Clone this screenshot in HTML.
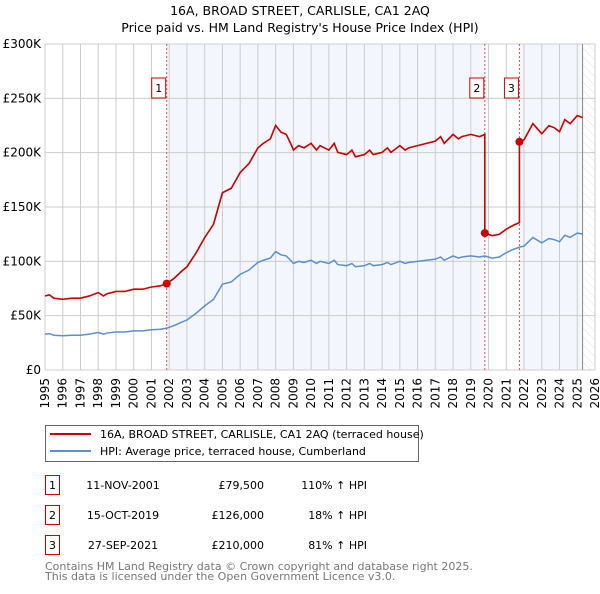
<!DOCTYPE html>
<html><head><meta charset="utf-8">
<style>
body{margin:0;background:#fff;font-family:"DejaVu Sans","Liberation Sans",sans-serif;}
svg text{font-family:"DejaVu Sans","Liberation Sans",sans-serif;}
</style></head>
<body>
<svg id="chart" width="600" height="590" viewBox="0 0 600 590" xmlns="http://www.w3.org/2000/svg">
<defs>
<pattern id="hatch" width="6" height="6" patternUnits="userSpaceOnUse" patternTransform="rotate(-45)">
<line x1="0" y1="0" x2="0" y2="6" stroke="#ddd" stroke-width="0.8"/>
</pattern>
</defs>
<text x="300" y="15" text-anchor="middle" font-size="12.5" fill="#000">16A, BROAD STREET, CARLISLE, CA1 2AQ</text>
<text x="300" y="32" text-anchor="middle" font-size="12.5" fill="#000">Price paid vs. HM Land Registry's House Price Index (HPI)</text>
<g id="plot"></g>
<g id="legend">
<rect x="45.5" y="425.5" width="373" height="36" fill="#fff" stroke="#666"/>
<line x1="50" y1="434" x2="91" y2="434" stroke="#cc0000" stroke-width="2"/>
<text x="100" y="438" font-size="11">16A, BROAD STREET, CARLISLE, CA1 2AQ (terraced house)</text>
<line x1="50" y1="451" x2="91" y2="451" stroke="#5b8fd0" stroke-width="2"/>
<text x="100" y="455" font-size="11">HPI: Average price, terraced house, Cumberland</text>
</g>
<g id="table" font-size="11"></g>
<text x="45" y="570" font-size="11" fill="#777">Contains HM Land Registry data © Crown copyright and database right 2025.</text>
<text x="45" y="580" font-size="11" fill="#777">This data is licensed under the Open Government Licence v3.0.</text>
</svg>
<script>
const years=[1995,1995.25,1995.5,1996,1996.5,1997,1997.5,1998,1998.3,1998.5,1999,1999.5,2000,2000.5,2001,2001.5,2001.86,2002.3,2002.7,2003,2003.5,2004,2004.5,2005,2005.5,2006,2006.5,2007,2007.3,2007.7,2008,2008.3,2008.6,2008.9,2009,2009.3,2009.6,2010,2010.3,2010.5,2011,2011.3,2011.5,2012,2012.3,2012.5,2013,2013.3,2013.5,2014,2014.3,2014.5,2015,2015.3,2015.5,2016,2016.5,2017,2017.3,2017.5,2018,2018.3,2018.5,2019,2019.5,2019.79,2020.2,2020.6,2021,2021.4,2021.74,2022,2022.5,2022.8,2023,2023.4,2023.7,2024,2024.3,2024.6,2025,2025.3];
const hpi=[33,33.5,32,31.5,32,32,33,34.5,33,34,35,35,36,36,37,37.5,38.5,41,44,46,52,59,65,79,81,88,92,99,101,103,109,106,105,100,98,100,99,101,98,100,98,101,97,96,98,95,96,98,96,97,99,97,100,98,99,100,101,102,104,101,105,103,104,105,104,105,103,104,108,111,113,114,122,119,117,121,120,118,124,122,126,125];
const saleYears=[2001.86,2019.79,2021.74];
const salePrices=[79.5,126,210];
const saleDates=["11-NOV-2001","15-OCT-2019","27-SEP-2021"];
const salePriceLabels=["£79,500","£126,000","£210,000"];
const salePctLabels=["110% ↑ HPI","18% ↑ HPI","81% ↑ HPI"];
const yTicks=[0,50,100,150,200,250,300];
const yTickLabels=["£0","£50K","£100K","£150K","£200K","£250K","£300K"];
const xTicks=[1995,1996,1997,1998,1999,2000,2001,2002,2003,2004,2005,2006,2007,2008,2009,2010,2011,2012,2013,2014,2015,2016,2017,2018,2019,2020,2021,2022,2023,2024,2025,2026];

const X0=45,X1=595,Y0=370,Y1=44,dataEnd=2025.3;
const xs=y=>X0+(y-1995)/(2026-1995)*(X1-X0);
const ys=v=>Y0-v/300*(Y0-Y1);
const NS="http://www.w3.org/2000/svg";
const plot=document.getElementById('plot');
function mk(tag,attrs,parent){const e=document.createElementNS(NS,tag);for(const k in attrs)e.setAttribute(k,attrs[k]);(parent||plot).appendChild(e);return e;}

let sh=mk('rect',{x:xs(saleYears[0]),y:Y1,width:xs(saleYears[1])-xs(saleYears[0]),height:Y0-Y1,fill:'#eef2fc',opacity:0.7});


let sh2=mk('rect',{x:xs(saleYears[2]),y:Y1,width:xs(dataEnd)-xs(saleYears[2]),height:Y0-Y1,fill:'#eef2fc',opacity:0.7});


let ht=mk('rect',{x:xs(dataEnd),y:Y1,width:X1-xs(dataEnd),height:Y0-Y1,fill:'url(#hatch)'});



xTicks.forEach((t,i)=>{
 const g=mk('line',{x1:xs(t),x2:xs(t),y1:Y1,y2:Y0,stroke:'#ccc','stroke-width':1});
 
 
 const tx=mk('text',{x:0,y:0,'font-size':12,'text-anchor':'end',transform:`translate(${xs(t)+4},${Y0+8}) rotate(-90)`});
 tx.textContent=t;
 
 
});
yTicks.forEach((t,i)=>{
 const g=mk('line',{x1:X0,x2:X1,y1:ys(t),y2:ys(t),stroke:'#ccc','stroke-width':1});
 
 
 const tx=mk('text',{x:X0-4,y:ys(t)+4,'font-size':12,'text-anchor':'end'});
 tx.textContent=yTickLabels[i];
 
 
});
let ax=mk('rect',{x:X0,y:Y1,width:X1-X0,height:Y0-Y1,fill:'none',stroke:'#ccc'});


let el=mk('line',{x1:xs(dataEnd),x2:xs(dataEnd),y1:Y1,y2:Y0,stroke:'#888'});



saleYears.forEach((s,i)=>{
 const l=mk('line',{x1:xs(s),x2:xs(s),y1:Y1,y2:Y0,stroke:'#e05050','stroke-dasharray':'2,2','stroke-width':1});
 
 
 const b=mk('rect',{x:xs(s)-15,y:78,width:14,height:20,fill:'#fff',stroke:'#cc0000'});
 
 
 const t=mk('text',{x:xs(s)-8,y:92,'font-size':11,'text-anchor':'middle'});
 t.textContent=i+1;
 
 
});

let hp=mk('polyline',{points:years.map((y,i)=>xs(y)+','+ys(hpi[i])).join(' '),fill:'none',stroke:'#5b8fd0','stroke-width':1.5});



function hpiAt(y){for(let i=0;i<years.length-1;i++){if(y>=years[i]&&y<=years[i+1]){const f=(y-years[i])/(years[i+1]-years[i]);return hpi[i]+f*(hpi[i+1]-hpi[i]);}}return hpi[hpi.length-1];}
const pts=[];
years.forEach((y,i)=>{
 let k=0;for(let j=0;j<saleYears.length;j++)if(y>=saleYears[j])k=j;
 if(i>0){for(let j=0;j<saleYears.length;j++){if(years[i-1]<saleYears[j]&&y>=saleYears[j]&&j>0){const prev=salePrices[j-1]/hpiAt(saleYears[j-1]);pts.push([saleYears[j],hpiAt(saleYears[j])*prev]);pts.push([saleYears[j],salePrices[j]]);}}}
 const r=salePrices[k]/hpiAt(saleYears[k]);
 pts.push([y,hpi[i]*r]);
});
let pl=mk('polyline',{points:pts.map(p=>xs(p[0])+','+ys(p[1])).join(' '),fill:'none',stroke:'#cc0000','stroke-width':1.6});


saleYears.forEach((s,i)=>{
 const c=mk('circle',{cx:xs(s),cy:ys(salePrices[i]),r:4,fill:'#cc0000'});
 
 
});

const tb=document.getElementById('table');
saleYears.forEach((s,i)=>{
 const y0=475+i*30;
 const b=mk('rect',{x:45.5,y:y0+0.5,width:14,height:19,fill:'#fff',stroke:'#cc0000'},tb);
 
 
 const a=mk('text',{x:52.5,y:y0+14,'text-anchor':'middle'},tb);a.textContent=i+1;
 
 
 const d=mk('text',{x:123,y:y0+14,'text-anchor':'middle'},tb);d.textContent=saleDates[i];
 
 
 const p=mk('text',{x:264,y:y0+14,'text-anchor':'end'},tb);p.textContent=salePriceLabels[i];
 
 
 const q=mk('text',{x:367,y:y0+14,'text-anchor':'end'},tb);q.textContent=salePctLabels[i];
 
 
});
</script>
</body></html>
